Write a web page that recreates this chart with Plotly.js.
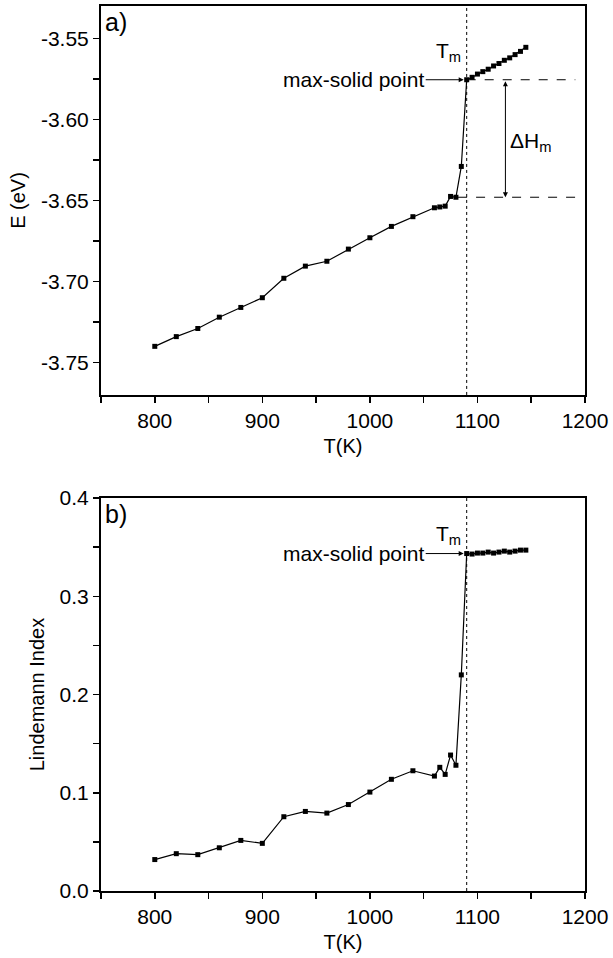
<!DOCTYPE html>
<html>
<head>
<meta charset="utf-8">
<script src="https://cdn.plot.ly/plotly-3.0.1.min.js"></script>
<style>html,body{margin:0;padding:0;background:#fff;}#chart{width:613px;height:958px;}</style>
</head>
<body>
<div id="chart"></div>
<script>
// ---- data ----
const tempA = [800,820,840,860,880,900,920,940,960,980,1000,1020,1040,1060,1065,1070,1075,1080,1085,1090,1095,1100,1105,1110,1115,1120,1125,1130,1135,1140,1145];
const energy = [-3.740,-3.734,-3.729,-3.722,-3.716,-3.710,-3.698,-3.6905,-3.6875,-3.680,-3.673,-3.666,-3.660,-3.6545,-3.654,-3.6535,-3.6475,-3.648,-3.629,-3.5755,-3.574,-3.572,-3.5705,-3.569,-3.567,-3.5655,-3.5635,-3.562,-3.560,-3.558,-3.5555];
const tempB = [800,820,840,860,880,900,920,940,960,980,1000,1020,1040,1060,1065,1070,1075,1080,1085,1090,1095,1100,1105,1110,1115,1120,1125,1130,1135,1140,1145];
const lindemann = [0.032,0.038,0.037,0.044,0.0515,0.0485,0.0756,0.081,0.0793,0.088,0.1007,0.1137,0.1224,0.117,0.1259,0.1187,0.1384,0.128,0.220,0.3435,0.343,0.344,0.344,0.345,0.344,0.345,0.346,0.345,0.346,0.347,0.347];
const meltT = 1090;
const solidE = -3.5755;
const preMeltE = -3.648;
const solidL = 0.3435;
const xTicks = [800,900,1000,1100,1200];
const yTicksA = [-3.75,-3.70,-3.65,-3.60,-3.55];
const yTickTextA = ['-3.75','-3.70','-3.65','-3.60','-3.55'];
const yTicksB = [0.0,0.1,0.2,0.3,0.4];
const yTickTextB = ['0.0','0.1','0.2','0.3','0.4'];

const FONT = 'Liberation Sans, Arial, sans-serif';
const mk = {symbol:'square', size:5, color:'#000'};
const ln = {color:'#000', width:1.2};

const traces = [
  {x: tempA, y: energy, mode:'lines+markers', marker: mk, line: ln, xaxis:'x', yaxis:'y', showlegend:false, hoverinfo:'skip'},
  {x: tempB, y: lindemann, mode:'lines+markers', marker: mk, line: ln, xaxis:'x2', yaxis:'y2', showlegend:false, hoverinfo:'skip'}
];

function xAx(anchor, titleStandoff){
  return {
    anchor: anchor, domain:[0,1], range:[750,1200],
    tickvals: xTicks, ticktext: xTicks.map(String),
    ticks:'outside', ticklen:6, tickwidth:1.5, tickcolor:'#000',
    minor:{ticks:'outside', dtick:50, tick0:0, ticklen:6, tickwidth:1.5, tickcolor:'#000'},
    showline:true, linewidth:2, linecolor:'#000', mirror:true,
    showgrid:false, zeroline:false,
    tickfont:{family:FONT, size:21, color:'#000'},
    title:{text:'T(K)', font:{family:FONT, size:20, color:'#000'}, standoff: titleStandoff}
  };
}
function yAx(anchor, dom, rng, vals, txt, minorD, title){
  return {
    anchor: anchor, domain: dom, range: rng,
    tickvals: vals, ticktext: txt,
    ticks:'outside', ticklen:6, tickwidth:1.5, tickcolor:'#000',
    minor:{ticks:'outside', dtick:minorD, tick0:0, ticklen:6, tickwidth:1.5, tickcolor:'#000'},
    showline:true, linewidth:2, linecolor:'#000', mirror:true,
    showgrid:false, zeroline:false,
    tickfont:{family:FONT, size:21, color:'#000'},
    title:{text:title, font:{family:FONT, size:20, color:'#000'}, standoff: 10}
  };
}

const annFont = {family:FONT, size:21, color:'#000'};
const layout = {
  width:613, height:958,
  margin:{l:101, r:28, t:6, b:67, pad:0},
  paper_bgcolor:'#fff', plot_bgcolor:'#fff',
  xaxis: xAx('y', 8),
  yaxis: yAx('x', [0.5605,1], [-3.77,-3.53], yTicksA, yTickTextA, 0.025, 'E (eV)'),
  xaxis2: xAx('y2', 8),
  yaxis2: yAx('x2', [0,0.444], [0,0.4], yTicksB, yTickTextB, 0.05, 'Lindemann Index'),
  shapes:[
    {type:'line', xref:'x', yref:'y domain', x0:meltT, x1:meltT, y0:0, y1:1, line:{color:'#000', width:1, dash:'dot'}},
    {type:'line', xref:'x2', yref:'y2 domain', x0:meltT, x1:meltT, y0:0, y1:1, line:{color:'#000', width:1, dash:'dot'}},
    {type:'line', xref:'x', yref:'y', x0:meltT, x1:1191, y0:solidE, y1:solidE, line:{color:'#000', width:1, dash:'dash'}},
    {type:'line', xref:'x', yref:'y', x0:1082, x1:1191, y0:preMeltE, y1:preMeltE, line:{color:'#000', width:1, dash:'dash'}}
  ],
  annotations:[
    {xref:'x domain', yref:'y domain', x:0.005, y:1, xanchor:'left', yanchor:'top', text:'a)', showarrow:false, font:{family:FONT, size:25, color:'#000'}},
    {xref:'x2 domain', yref:'y2 domain', x:0.005, y:1, xanchor:'left', yanchor:'top', text:'b)', showarrow:false, font:{family:FONT, size:25, color:'#000'}},
    {xref:'x', yref:'y', x:meltT, y:solidE, text:'max-solid point', font:annFont, showarrow:true, ax:-113, ay:0, arrowhead:2, arrowsize:1, arrowwidth:1, arrowcolor:'#000', standoff:3},
    {xref:'x2', yref:'y2', x:meltT, y:solidL, text:'max-solid point', font:annFont, showarrow:true, ax:-113, ay:0, arrowhead:2, arrowsize:1, arrowwidth:1, arrowcolor:'#000', standoff:3},
    {xref:'x', yref:'y', x:1073, y:-3.5585, text:'T<sub>m</sub>', font:annFont, showarrow:false},
    {xref:'x2', yref:'y2', x:1073, y:0.362, text:'T<sub>m</sub>', font:annFont, showarrow:false},
    {xref:'x', yref:'y', x:1126, y:preMeltE, ax:1126, ay:solidE, axref:'x', ayref:'y', text:'', showarrow:true, arrowside:'end+start', arrowhead:2, arrowsize:1, arrowwidth:1, arrowcolor:'#000'},
    {xref:'x', yref:'y', x:1128, y:-3.614, xanchor:'left', text:'ΔH<sub>m</sub>', font:annFont, showarrow:false}
  ]
};

Plotly.newPlot('chart', traces, layout, {staticPlot:true, displayModeBar:false});
</script>
</body>
</html>
